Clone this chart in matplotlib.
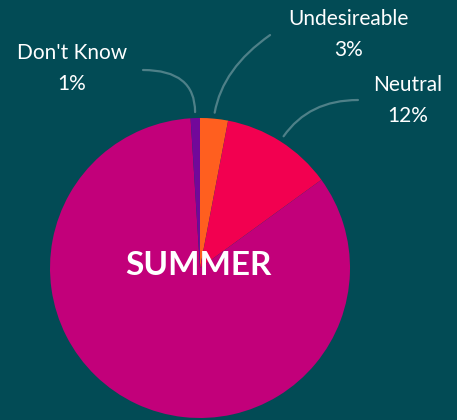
import matplotlib
matplotlib.use("Agg")
import matplotlib.pyplot as plt
import numpy as np

# Survey shares, in drawing order (clockwise from 12 o'clock)
labels = ["Undesireable", "Neutral", "Desireable", "Don't Know"]
shares = [3, 12, 84, 1]
colors = ["#FF5F1F", "#F20050", "#C2007A", "#72089A"]
shown = ["Undesireable", "Neutral", "Don't Know"]

BG = "#024B55"
LINE = "#4E8088"

plt.rcParams["font.family"] = ["Lato", "DejaVu Sans"]

fig = plt.figure(figsize=(4.57, 4.2), dpi=100)
fig.patch.set_facecolor(BG)
ax = fig.add_axes([0, 0, 1, 1])
ax.set_facecolor(BG)

wedges, _ = ax.pie(shares, colors=colors, startangle=90, counterclock=False,
                   radius=1, center=(0, 0), wedgeprops=dict(linewidth=0))

# one data unit = 150 px, pie centred at (200, 268) px
ax.set_xlim(-200 / 150, 257 / 150)
ax.set_ylim(-152 / 150, 268 / 150)
ax.set_aspect("equal")
ax.axis("off")

# label placement: text anchor (name baseline), leader start, connection angles
label_pos = {
    "Don't Know": ((-0.853, 1.393), (-0.38, 1.32), 0, 90),
    "Undesireable": ((0.987, 1.62), (0.467, 1.553), 35, 80),
    "Neutral": ((1.383, 1.18), (1.053, 1.12), 0, 55),
}

for w, name, val in zip(wedges, labels, shares):
    if name not in shown:
        continue
    mid = np.deg2rad((w.theta1 + w.theta2) / 2)
    anchor = (1.04 * np.cos(mid), 1.04 * np.sin(mid))
    (tx, ty), start, angA, angB = label_pos[name]
    ax.text(tx, ty, name, color="white", fontsize=15,
            ha="center", va="baseline")
    ax.text(tx, ty - 31 / 150, f"{val}%", color="white", fontsize=15,
            ha="center", va="baseline")
    ax.annotate("", xy=anchor, xytext=start,
                arrowprops=dict(arrowstyle="-", color=LINE, lw=1.6,
                                shrinkA=0, shrinkB=0,
                                connectionstyle=f"angle3,angleA={angA},angleB={angB}"))

ax.text(-0.01, -7 / 150, "SUMMER", color="white", fontsize=24, fontweight="bold",
        ha="center", va="baseline")

fig.savefig("out.png", dpi=100, facecolor=BG)
